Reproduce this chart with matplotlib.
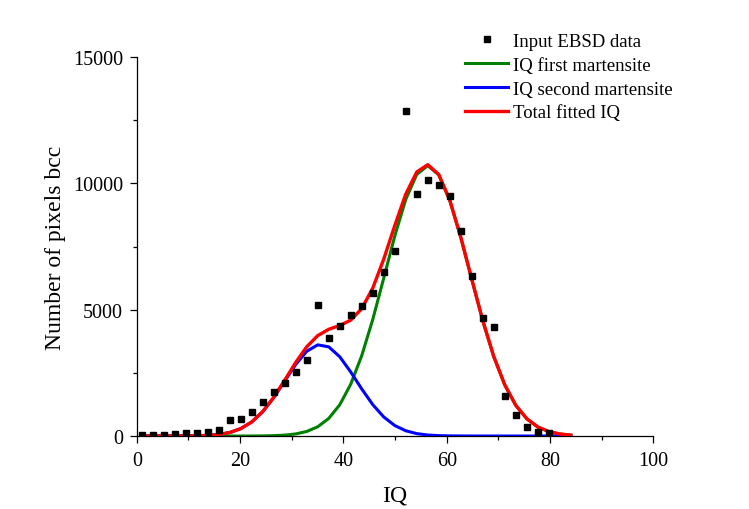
import matplotlib
matplotlib.use("Agg")
import matplotlib.pyplot as plt
from matplotlib.ticker import MultipleLocator

plt.rcParams.update({
    "font.family": "serif",
    "font.serif": ["Liberation Serif", "DejaVu Serif"],
    "mathtext.fontset": "stix",
})

# ================= DATA =================
# IQ positions of the histogram bins
iq = [0.95, 3.08, 5.21, 7.34, 9.47, 11.60, 13.73, 15.86, 17.99, 20.12,
      22.25, 24.38, 26.51, 28.64, 30.77, 32.90, 35.03, 37.16, 39.29, 41.42,
      43.55, 45.68, 47.81, 49.94, 52.07, 54.20, 56.33, 58.46, 60.59, 62.72,
      64.85, 66.98, 69.11, 71.24, 73.37, 75.50, 77.63, 79.76, 81.89, 84.02]

# measured counts (38 bins)
ebsd_counts = [30, 45, 60, 80, 107, 132, 172, 251, 646, 673,
               937, 1358, 1728, 2098, 2545, 3020, 5185, 3879, 4366, 4789,
               5158, 5660, 6490, 7330, 12875, 9578, 10130, 9920, 9500, 8115,
               6345, 4670, 4300, 1595, 843, 368, 170, 100]

# fitted components, read at each bin
first_mart = [0, 0, 0, 0, 0, 0, 0, 0, 0, 0,
              1, 5, 14, 35, 83, 180, 366, 695, 1235, 2051,
              3181, 4610, 6248, 7912, 9364, 10354, 10700, 10334, 9328, 7866,
              6201, 4567, 3143, 2023, 1215, 684, 359, 176, 81, 35]

second_mart = [0, 0, 0, 1, 3, 8, 24, 60, 138, 291,
               555, 962, 1517, 2175, 2831, 3352, 3608, 3529, 3137, 2534,
               1862, 1242, 754, 415, 208, 95, 39, 15, 5, 2,
               1, 0, 0, 0, 0, 0, 0, 0, 0, 0]

total_fit = [0, 0, 0, 1, 3, 8, 24, 60, 138, 291,
             556, 967, 1531, 2210, 2914, 3532, 3974, 4224, 4372, 4585,
             5043, 5852, 7002, 8327, 9572, 10449, 10739, 10349, 9333, 7868,
             6202, 4567, 3143, 2023, 1215, 684, 359, 176, 81, 35]

# ================= PLOT =================
fig = plt.figure(figsize=(7.49, 5.10), dpi=100)
ax = fig.add_axes([0.1826, 0.1431, 0.6897, 0.7432])

ax.plot(iq[:len(ebsd_counts)], ebsd_counts, linestyle="none", marker="s",
        markersize=3.7, color="black", label="Input EBSD data", zorder=5)
ax.plot(iq, first_mart, color="#008000", linewidth=2.2,
        label="IQ first martensite", zorder=2)
ax.plot(iq, second_mart, color="#0000ff", linewidth=2.2,
        label="IQ second martensite", zorder=3)
ax.plot(iq, total_fit, color="#ff0000", linewidth=2.4,
        label="Total fitted IQ", zorder=4)

ax.set_xlim(0, 100)
ax.set_ylim(0, 15000)
ax.xaxis.set_major_locator(MultipleLocator(20))
ax.xaxis.set_minor_locator(MultipleLocator(10))
ax.yaxis.set_major_locator(MultipleLocator(5000))
ax.yaxis.set_minor_locator(MultipleLocator(2500))

for side in ["top", "right"]:
    ax.spines[side].set_visible(False)
for side in ["left", "bottom"]:
    ax.spines[side].set_linewidth(0.9)

ax.tick_params(which="major", direction="out", length=5, width=0.9,
               labelsize=14.5)
ax.tick_params(axis="x", which="major", pad=6)
ax.tick_params(axis="y", which="major", pad=5)
ax.tick_params(which="minor", direction="out", length=3, width=0.9)

ax.set_xlabel("IQ", fontsize=17, labelpad=10)
ax.set_ylabel("Number of pixels bcc", fontsize=17, labelpad=5)

ax.legend(loc="upper left", bbox_to_anchor=(0.621, 0.934),
          bbox_transform=fig.transFigure, frameon=False, fontsize=13.5,
          borderpad=0, borderaxespad=0, handlelength=2.3,
          handletextpad=0.25, labelspacing=0.36, markerscale=1.0)

fig.savefig("out.png", dpi=100, facecolor="white")
